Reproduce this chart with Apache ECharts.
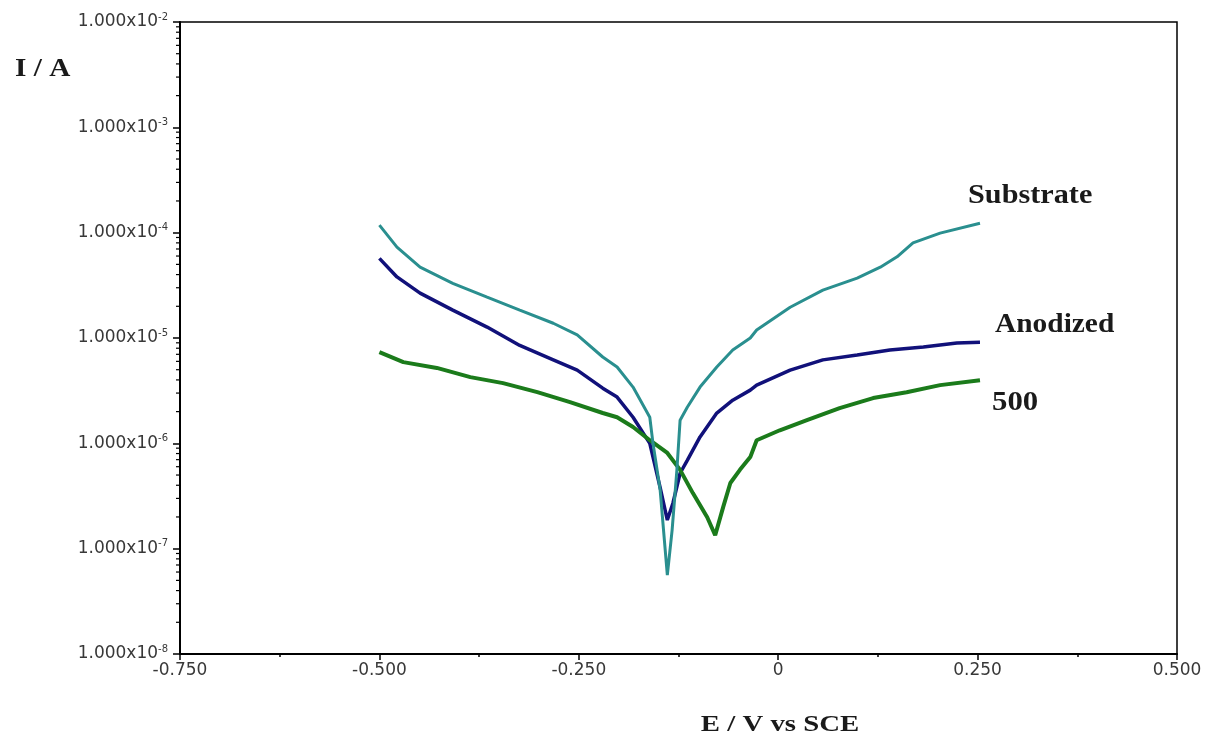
<!DOCTYPE html>
<html>
<head>
<meta charset="utf-8">
<script src="https://cdn.jsdelivr.net/npm/echarts@6.0.0/dist/echarts.min.js"></script>
<style>
  html, body { margin: 0; padding: 0; background: #fff; }
  #main { width: 1219px; height: 743px; }
</style>
</head>
<body>
<div id="main"></div>
<script>
// Substrate curve (E in V vs SCE, I in A)
var subE = [-0.500, -0.478, -0.449, -0.408, -0.365, -0.324, -0.282, -0.252, -0.220, -0.202, -0.182, -0.161, -0.157, -0.148, -0.139, -0.133, -0.127, -0.123, -0.114, -0.098, -0.077, -0.057, -0.035, -0.027, 0.015, 0.056, 0.099, 0.128, 0.149, 0.169, 0.203, 0.253]
var subI = [1.18e-4, 7.3e-5, 4.7e-5, 3.3e-5, 2.44e-5, 1.84e-5, 1.38e-5, 1.07e-5, 6.6e-6, 5.3e-6, 3.42e-6, 1.77e-6, 1.0e-6, 3.6e-7, 5.6e-8, 1.5e-7, 5.6e-7, 1.66e-6, 2.2e-6, 3.42e-6, 5.3e-6, 7.7e-6, 1.0e-5, 1.19e-5, 1.96e-5, 2.85e-5, 3.7e-5, 4.7e-5, 5.9e-5, 8.0e-5, 9.9e-5, 1.23e-4]

// Anodized curve
var anoE = [-0.500, -0.478, -0.449, -0.408, -0.365, -0.324, -0.282, -0.252, -0.220, -0.202, -0.182, -0.161, -0.148, -0.139, -0.132, -0.123, -0.114, -0.098, -0.077, -0.057, -0.035, -0.027, 0.015, 0.056, 0.099, 0.140, 0.182, 0.224, 0.253]
var anoI = [5.7e-5, 3.8e-5, 2.67e-5, 1.84e-5, 1.27e-5, 8.5e-6, 6.2e-6, 4.95e-6, 3.34e-6, 2.75e-6, 1.77e-6, 1.0e-6, 3.8e-7, 1.87e-7, 2.7e-7, 5.2e-7, 6.9e-7, 1.15e-6, 1.94e-6, 2.57e-6, 3.2e-6, 3.57e-6, 4.95e-6, 6.2e-6, 6.9e-6, 7.7e-6, 8.2e-6, 8.95e-6, 9.1e-6]

// 500 curve
var t500E = [-0.500, -0.470, -0.428, -0.386, -0.345, -0.302, -0.261, -0.220, -0.202, -0.182, -0.161, -0.139, -0.123, -0.107, -0.089, -0.079, -0.069, -0.060, -0.048, -0.035, -0.027, 0.002, 0.036, 0.077, 0.119, 0.161, 0.203, 0.253]
var t500I = [7.35e-6, 5.9e-6, 5.2e-6, 4.25e-6, 3.73e-6, 3.06e-6, 2.46e-6, 1.94e-6, 1.77e-6, 1.43e-6, 1.07e-6, 8.1e-7, 5.6e-7, 3.37e-7, 1.99e-7, 1.34e-7, 2.48e-7, 4.2e-7, 5.6e-7, 7.4e-7, 1.07e-6, 1.33e-6, 1.66e-6, 2.16e-6, 2.69e-6, 3.06e-6, 3.57e-6, 3.98e-6]

var xMin = -0.75, xMax = 0.5, xStep = 0.25
var yMin = 1e-8, yMax = 1e-2

let pairs = (xs, ys) => xs.map((x, i) => [x, ys[i]])

var chart = echarts.init(document.getElementById('main'))

let tickFont = 'DejaVu Sans'
let labelFont = 'bold 28px "Liberation Serif"'

var option = {
  backgroundColor: '#fff',
  animation: false,
  grid: {
    left: 180, right: 42, top: 22, bottom: 89,
    show: true, borderColor: '#000', borderWidth: 1.5
  },
  xAxis: {
    type: 'value',
    min: xMin, max: xMax, interval: xStep,
    axisLine: { onZero: false, lineStyle: { color: '#000', width: 2 } },
    axisTick: { length: 6, lineStyle: { color: '#000', width: 1.5 } },
    minorTick: { show: true, splitNumber: 2, length: 3, lineStyle: { color: '#000', width: 1.5 } },
    splitLine: { show: false },
    axisLabel: {
      margin: 8, color: '#383838', fontSize: 17, fontFamily: tickFont,
      formatter: v => v === 0 ? '0' : v.toFixed(3)
    }
  },
  yAxis: {
    type: 'log', logBase: 10,
    min: yMin, max: yMax,
    axisLine: { show: true, onZero: false, lineStyle: { color: '#000', width: 2 } },
    axisTick: { show: true, length: 7, lineStyle: { color: '#000', width: 1.5 } },
    splitLine: { show: false },
    axisLabel: {
      margin: 12,
      formatter: v => '{a|1.000x10}{b|' + Math.round(Math.log10(v)) + '}',
      rich: {
        a: { fontFamily: tickFont, fontSize: 17, color: '#383838' },
        b: { fontFamily: tickFont, fontSize: 10, color: '#383838', padding: [0, 0, 10, 0] }
      }
    }
  },
  series: [
    {
      name: 'Anodized', type: 'line', showSymbol: false,
      data: pairs(anoE, anoI),
      lineStyle: { color: '#11117a', width: 3.5 }
    },
    {
      name: '500', type: 'line', showSymbol: false,
      data: pairs(t500E, t500I),
      lineStyle: { color: '#1b7b1b', width: 4 }
    },
    {
      name: 'Substrate', type: 'line', showSymbol: false,
      data: pairs(subE, subI),
      lineStyle: { color: '#2a8f8f', width: 3 }
    }
  ]
}
chart.setOption(option)

// log minor ticks on the y axis (2..9 in each decade)
let minor = []
for (let d = -8; d < -2; d++) {
  for (let k = 2; k <= 9; k++) {
    let p = chart.convertToPixel({ gridIndex: 0 }, [xMin, k * Math.pow(10, d)])
    minor.push({
      type: 'line', silent: true,
      shape: { x1: p[0] - 4, y1: p[1], x2: p[0], y2: p[1] },
      style: { stroke: '#000', lineWidth: 1.2 }
    })
  }
}

let texts = [
  { type: 'text', x: 15, y: 70, scaleX: 1.17, style: { text: 'I / A', font: 'bold 25px "Liberation Serif"', fill: '#1a1a1a', align: 'left', verticalAlign: 'middle' } },
  { type: 'text', x: 780, y: 725, scaleX: 1.2, style: { text: 'E / V vs SCE', font: 'bold 24px "Liberation Serif"', fill: '#1a1a1a', align: 'center', verticalAlign: 'middle' } },
  { type: 'text', x: 968, y: 196, scaleX: 1.08, style: { text: 'Substrate', font: labelFont, fill: '#1a1a1a', align: 'left', verticalAlign: 'middle' } },
  { type: 'text', x: 995, y: 325, scaleX: 1.05, style: { text: 'Anodized', font: labelFont, fill: '#1a1a1a', align: 'left', verticalAlign: 'middle' } },
  { type: 'text', x: 992, y: 403, scaleX: 1.1, style: { text: '500', font: labelFont, fill: '#1a1a1a', align: 'left', verticalAlign: 'middle' } }
]

chart.setOption({ graphic: minor.concat(texts) })
</script>
</body>
</html>
